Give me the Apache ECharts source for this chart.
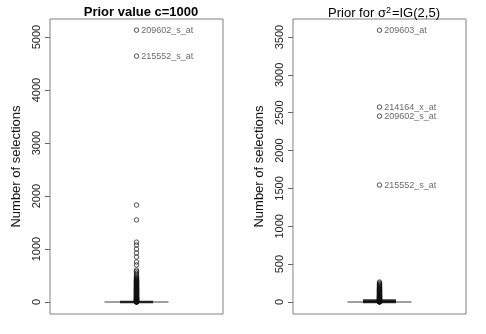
<!DOCTYPE html>
<html>
<head>
    <meta charset="utf-8">
    <title>Number of selections</title>
    <script src="https://cdn.jsdelivr.net/npm/echarts@6/dist/echarts.min.js"></script>
    <style>
        body { margin: 0; background: #fff; }
        #main { width: 486px; height: 334px; }
    </style>
</head>
<body>
    <div id="main"></div>

    <script type="text/javascript">
        // panel 1: prior value c=1000
        var leftTicks = [0, 1000, 2000, 3000, 4000, 5000];
        var leftBox = [0, 0, 0, 0, 0];
        var leftStaple = [0];
        var leftNamed = [5130, 4640];
        var leftNames = ['209602_s_at', '215552_s_at'];
        var leftOutliers = [1830, 1550, 1130, 1075, 1000, 925, 850, 755, 700, 604, 575, 547, 520, 490,
            470, 453, 441, 430, 420, 410, 402, 395, 387, 380, 371, 362, 356, 350, 344, 338, 329, 320,
            312, 305, 297, 290, 284, 278, 270, 262, 256, 250, 244, 238, 231, 225, 218, 212, 206, 200,
            195, 190, 184, 178, 171, 165, 158, 152, 146, 140, 135, 131, 125, 120, 115, 110, 104, 98,
            93, 88, 83, 79, 74, 70, 65, 61, 56, 52, 48, 45, 41, 38, 34, 31, 27, 24, 21, 18, 15, 13,
            11, 9, 7, 6, 4, 3, 2, 1];

        // panel 2: prior for sigma^2 = IG(2,5)
        var rightTicks = [0, 500, 1000, 1500, 2000, 2500, 3000, 3500];
        var rightBox = [0, 0, 0, 0, 0];
        var rightStaple = [0, 20];
        var rightNamed = [3590, 2575, 2455, 1545];
        var rightNames = ['209603_at', '214164_x_at', '209602_s_at', '215552_s_at'];
        var rightOutliers = [264, 250, 238, 228, 220, 210, 198, 191, 185, 178, 172, 166, 160, 155,
            150, 144, 138, 132, 126, 120, 115, 109, 104, 99, 95, 90, 86, 81, 77, 72, 68, 64, 60, 56,
            52, 48, 45, 41, 38, 34, 31, 28, 25, 22, 19, 16, 14, 12, 10, 8, 6, 4, 3, 2, 1];

        var FONT = 'Liberation Sans, Arial, sans-serif';

        function yAxisFor(idx, ticks, mn, mx) {
            return {
                type: 'value', gridIndex: idx, min: mn, max: mx,
                name: 'Number of selections', nameLocation: 'middle', nameGap: 27,
                nameTextStyle: { fontFamily: FONT, fontSize: 13, color: '#111' },
                splitLine: { show: false },
                axisLine: { show: false },
                axisTick: { show: true, length: 5, customValues: ticks, lineStyle: { color: '#666' } },
                axisLabel: {
                    customValues: ticks, rotate: 90, margin: 8,
                    fontFamily: FONT, fontSize: 11, color: '#222',
                    formatter: function (v) { return String(v); }
                }
            };
        }

        function pts(vals) {
            return vals.map(function (v) { return [0, v]; });
        }

        function namedPts(vals, names) {
            return vals.map(function (v, i) { return { name: names[i], value: [0, v] }; });
        }

        var ring = { color: 'transparent', borderColor: '#111', borderWidth: 0.9 };

        function panelSeries(idx, box, staple, outliers, named, names) {
            return [{
                type: 'boxplot', xAxisIndex: idx, yAxisIndex: idx,
                boxWidth: [64, 64],
                itemStyle: { color: 'transparent', borderColor: '#808080', borderWidth: 1.5 },
                data: [box], z: 2
            }, {
                type: 'scatter', xAxisIndex: idx, yAxisIndex: idx,
                symbol: 'rect', symbolSize: [33, 2.5],
                itemStyle: { color: '#000' },
                data: pts(staple), z: 3
            }, {
                type: 'scatter', xAxisIndex: idx, yAxisIndex: idx,
                symbol: 'circle', symbolSize: 4.5,
                itemStyle: ring,
                data: pts(outliers), z: 4
            }, {
                type: 'scatter', xAxisIndex: idx, yAxisIndex: idx,
                symbol: 'circle', symbolSize: 4.5,
                itemStyle: ring,
                label: {
                    show: true, position: 'right', distance: 2,
                    formatter: '{b}', fontFamily: FONT, fontSize: 9, color: '#444'
                },
                data: namedPts(named, names), z: 4
            }];
        }

        var option = {
            animation: false,
            backgroundColor: '#fff',
            title: [{
                text: 'Prior value c=1000', left: 136, top: 1, textAlign: 'center',
                textStyle: { fontFamily: FONT, fontSize: 13, fontWeight: 'bold', color: '#000' }
            }, {
                text: 'Prior for {s|σ}{sup|2}=IG(2,5)', left: 379, top: 1, textAlign: 'center',
                textStyle: {
                    fontFamily: FONT, fontSize: 13, fontWeight: 'normal', color: '#000',
                    rich: {
                        s: { fontFamily: FONT, fontSize: 13 },
                        sup: { fontFamily: FONT, fontSize: 9, verticalAlign: 'top', padding: [0, 1, 6, 0] }
                    }
                }
            }],
            grid: [
                { left: 50, top: 19, width: 173, height: 295, show: true, borderColor: '#808080', borderWidth: 1 },
                { left: 293, top: 19, width: 173, height: 295, show: true, borderColor: '#808080', borderWidth: 1 }
            ],
            xAxis: [
                { type: 'category', gridIndex: 0, data: ['1'], show: false },
                { type: 'category', gridIndex: 1, data: ['1'], show: false }
            ],
            yAxis: [
                yAxisFor(0, leftTicks, -226, 5340),
                yAxisFor(1, rightTicks, -158, 3738)
            ],
            series: panelSeries(0, leftBox, leftStaple, leftOutliers, leftNamed, leftNames)
                .concat(panelSeries(1, rightBox, rightStaple, rightOutliers, rightNamed, rightNames))
        };

        var myChart = echarts.init(document.getElementById('main'), null, { renderer: 'canvas' });
        myChart.setOption(option);
    </script>
</body>
</html>
